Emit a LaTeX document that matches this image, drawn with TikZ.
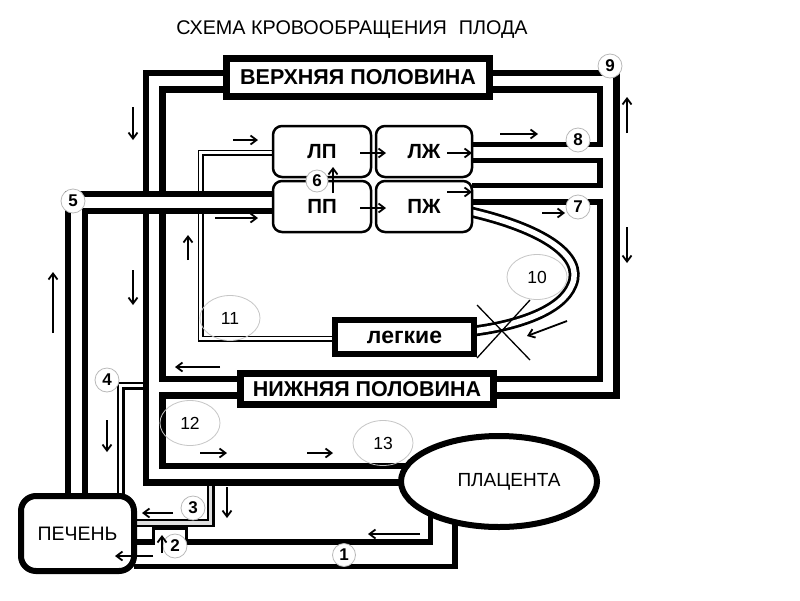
\documentclass[tikz,border=0pt]{standalone}
\usepackage{fontspec}
\setmainfont{Liberation Sans}
\usetikzlibrary{arrows.meta,shapes.geometric}
\begin{document}
\begin{tikzpicture}[x=1pt,y=-1pt,
  tubeb/.style={line width=23pt,black},
  tubew/.style={line width=10.5pt,white},
  thinb/.style={line width=6pt,black},
  thinw/.style={line width=2.4pt,white},
  arr/.style={-{Straight Barb[length=6pt,width=9pt]},line width=1.8pt},
  heart/.style={draw,line width=2.5pt,rounded corners=9pt,fill=white,minimum width=98pt,minimum height=51pt,inner sep=0pt,font=\bfseries\fontsize{20.5}{24}\selectfont},
  half/.style={draw,line width=7pt,fill=white,inner sep=0pt,font=\bfseries\fontsize{21.5}{25}\selectfont},
  num/.style={circle,draw=gray!55,line width=0.8pt,fill=white,minimum size=24pt,inner sep=0pt,font=\bfseries\fontsize{17}{19}\selectfont},
  lab/.style={ellipse,draw=gray!45,line width=0.8pt,minimum width=60pt,minimum height=45pt,inner sep=0pt,font=\fontsize{17.5}{19}\selectfont}]
\fill[white] (0,0) rectangle (800,600);
\path[use as bounding box] (0,0) rectangle (800,600);

% thin tubes: 11, 4, 3
\draw[thinb] (273,152.5) -- (200.5,152.5) -- (200.5,338.5) -- (335,338.5);
\draw[thinw] (273,152.5) -- (200.5,152.5) -- (200.5,338.5) -- (335,338.5);
\draw[line width=8pt] (144,385.5) -- (120.5,385.5) -- (120.5,497);
\draw[line width=3.5pt,white] (144,385.5) -- (120.5,385.5) -- (120.5,497);
\draw[line width=8pt] (133,523) -- (210.5,523) -- (210.5,484);
\draw[line width=3.5pt,gray!25] (133,523) -- (210.5,523) -- (210.5,484);

% curve 10
\draw[line width=11pt] (471,212) .. controls (540,228) and (585,255) .. (572,285) .. controls (562,310) and (520,325) .. (474,331);
\draw[line width=5.5pt,white] (471,212) .. controls (540,228) and (585,255) .. (572,285) .. controls (562,310) and (520,325) .. (474,331);

% main vessels
\draw[tubeb] (410,474) -- (154,474) -- (154,81) -- (608,81) -- (608,387) -- (154,387);
\draw[line width=21pt] (472,152.5) -- (608,152.5);
\draw[line width=22pt] (472,193.5) -- (608,193.5);
\draw[line width=30pt] (442.5,510) -- (442.5,554) -- (134,554);
\draw[tubew] (410,474) -- (154,474) -- (154,81) -- (608,81) -- (608,387) -- (154,387);
\draw[line width=11pt,white] (472,152.5) -- (608,152.5);
\draw[line width=10.5pt,white] (472,193.5) -- (608,193.5);
\draw[line width=19pt,white] (442.5,510) -- (442.5,554) -- (134,554);

% tube 5 (on top)
\draw[tubeb] (76.5,497) -- (76.5,202.5) -- (273,202.5);
\draw[line width=11.5pt,white] (76.5,497) -- (76.5,202.5) -- (273,202.5);

% notch of 2
\fill[white] (155,530) rectangle (185,546);
\draw[line width=3pt] (153.5,542) -- (153.5,528.5) -- (186.5,528.5) -- (186.5,542);

% boxes
\node[heart] (lp) at (322,151.5) {ЛП};
\node[heart,minimum width=96pt] (lz) at (424,151.5) {ЛЖ};
\node[heart] (pp) at (322,206.5) {ПП};
\node[heart,minimum width=96pt] (pz) at (424,206.5) {ПЖ};
\node[half,minimum width=263pt,minimum height=38pt] (up) at (358,77.5) {ВЕРХНЯЯ ПОЛОВИНА};
\node[half,minimum width=253pt,minimum height=31pt] (low) at (367,389) {НИЖНЯЯ ПОЛОВИНА};
\node[draw,line width=6pt,fill=white,minimum width=139pt,minimum height=34pt,inner sep=0pt,font=\bfseries\fontsize{23}{26}\selectfont] (lung) at (404.5,337) {легкие};
\node[ellipse,draw,line width=6pt,fill=white,minimum width=196pt,minimum height=91pt,inner sep=0pt,font=\fontsize{19}{22}\selectfont] (plac) at (499,481.5) {\hspace{20pt}ПЛАЦЕНТА};
\node[draw,line width=6pt,fill=white,rounded corners=15pt,minimum width=113pt,minimum height=75pt,inner sep=0pt,font=\fontsize{19.5}{22}\selectfont] (liver) at (77.5,533.5) {ПЕЧЕНЬ};

% X over lung connection
\draw[line width=1.3pt] (477,305) -- (530,360);
\draw[line width=1.3pt] (530,300) -- (477,358);

% arrows
\draw[arr] (233,140) -- (258,140);
\draw[arr] (215,218) -- (258,218);
\draw[arr] (360,153) -- (386,153);
\draw[arr] (360,208) -- (386,208);
\draw[arr] (447,153) -- (472,153);
\draw[arr] (447,192) -- (472,192);
\draw[arr] (500,134) -- (538,134);
\draw[arr] (542,213) -- (565,213);
\draw[arr] (333,193) -- (333,167);
\draw[arr] (627,133) -- (627,97);
\draw[arr] (627,227) -- (627,263);
\draw[arr] (133,107) -- (133,140);
\draw[arr] (188,260) -- (188,235);
\draw[arr] (133,270) -- (133,305);
\draw[arr] (53,333) -- (53,272);
\draw[arr] (220,367) -- (175,367);
\draw[arr] (107,420) -- (107,452);
\draw[arr] (200,453) -- (227,453);
\draw[arr] (307,453) -- (333,453);
\draw[arr] (420,534) -- (368,534);
\draw[arr] (173,513) -- (142,513);
\draw[arr] (227,487) -- (227,518);
\draw[arr] (153,556) -- (115,556);
\draw[arr] (567,321) -- (527,336);

% numbered circles
\node[num,minimum size=23pt] (n1) at (344,555) {1};
\node[num] (n2) at (175,546) {2};
\draw[arr] (162,553) -- (162,535);
\node[num] (n3) at (193,508) {3};
\node[num] (n4) at (107,380) {4};
\node[num] (n5) at (73,201) {5};
\node[num,minimum size=22pt] (n6) at (317,181) {6};
\node[num] (n7) at (578,207) {7};
\node[num] (n8) at (578,140) {8};
\node[num] (n9) at (610,66) {9};
\node[lab] (n10) at (537,277) {10};
\node[lab] (n11) at (230,318) {11};
\node[lab] (n12) at (190,423) {12};
\node[lab] (n13) at (383,443) {13};

% title
\node[font=\fontsize{19.8}{23}\selectfont,inner sep=0pt] (title) at (352,30) {СХЕМА КРОВООБРАЩЕНИЯ\hspace{0.6em}ПЛОДА};
\end{tikzpicture}
\end{document}
